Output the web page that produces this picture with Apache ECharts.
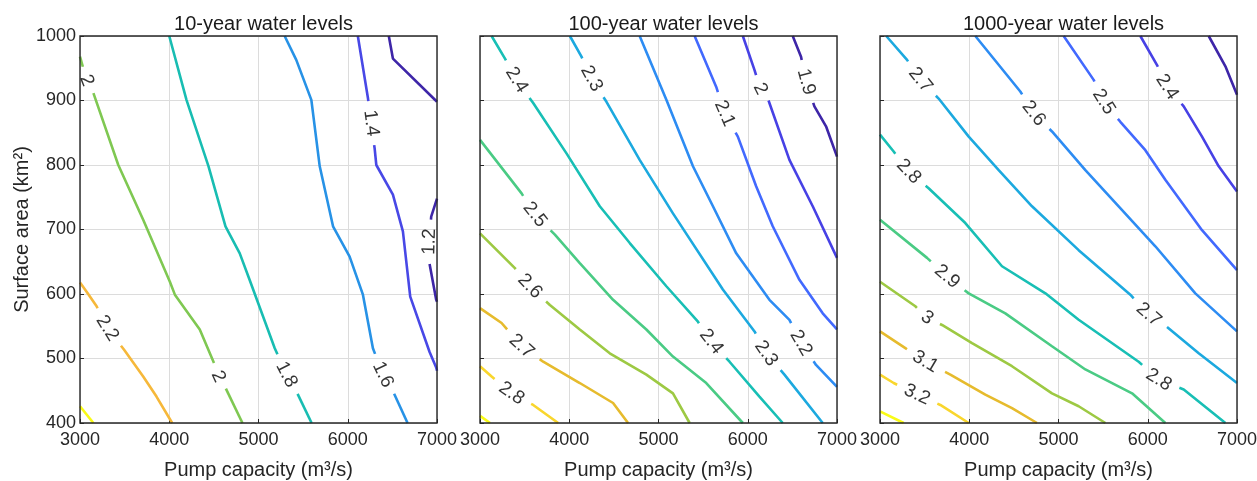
<!DOCTYPE html>
<html><head><meta charset="utf-8">
<script src="https://cdn.jsdelivr.net/npm/echarts@6/dist/echarts.min.js"></script>
<style>html,body{margin:0;padding:0;background:#fff}#c{width:1257px;height:481px}</style>
</head><body><div id="c"></div>
<script>
// ---------------- data ----------------
const titles = ['10-year water levels', '100-year water levels', '1000-year water levels'];
const xTickValues = [3000, 4000, 5000, 6000, 7000];
const yTickValues = [400, 500, 600, 700, 800, 900, 1000];
const xName = 'Pump capacity (m\u00b3/s)';
const yName = 'Surface area (km\u00b2)';

// 10-year panel: contour levels and their polylines [pump, area]
const levels10 = [2.4, 2.2, 2, 1.8, 1.6, 1.4, 1.2, 1.2];
const lines10 = [
  [[3000,426],[3150,400]],
  [[3000,618],[3082,602],[3186,581],[3306,547],[3492,514],[3708,472],[3857,441],[4033,400]],
  [[3000,968],[3075,931],[3149,912],[3429,800],[3708,715],[4007,619],[4063,599],[4342,545],[4511,490],[4548,472],[4641,452],[4820,400]],
  [[4000,1000],[4193,901],[4440,798],[4630,705],[4790,663],[4900,622],[5182,516],[5313,475],[5443,444],[5595,400]],
  [[5293,1000],[5423,963],[5592,901],[5686,798],[5835,705],[6021,658],[6170,599],[6282,516],[6394,475],[6525,444],[6670,400]],
  [[6113,1000],[6227,903],[6262,865],[6301,826],[6320,800],[6506,754],[6618,697],[6700,596],[6917,510],[6991,486],[7000,481]],
  [[6460,1000],[6506,965],[7000,898]],
  [[7000,748],[6935,720],[6914,681],[6917,645],[6991,591],[7000,588]]
];
// label anchors: [line index, pump, area]
const labels10 = [[1,3306,547],[2,3075,931],[2,4548,472],[3,5313,475],[4,6394,475],[5,6262,865],[7,6914,681]];

// 100-year panel
const levels100 = [2.9, 2.8, 2.7, 2.6, 2.5, 2.4, 2.3, 2.2, 2.1, 2, 1.9];
const lines100 = [
  [[3000,411],[3112,400]],
  [[3000,488],[3130,472],[3354,446],[3596,428],[3876,400]],
  [[3000,578],[3242,555],[3466,519],[3708,495],[4118,462],[4491,431],[4659,400]],
  [[3000,694],[3391,640],[3559,612],[3783,583],[4118,545],[4454,508],[4864,475],[5162,446],[5349,400]],
  [[3000,839],[3466,756],[3615,723],[3839,692],[4118,648],[4491,591],[4864,545],[5162,503],[5535,462],[5945,400]],
  [[3130,1000],[3280,965],[3410,932],[3596,896],[3969,818],[4342,736],[4678,679],[5088,612],[5442,557],[5591,526],[5796,495],[6131,441],[6392,400]],
  [[4007,1000],[4137,968],[4249,934],[4417,898],[4789,808],[5162,725],[5721,607],[6076,542],[6206,508],[6411,475],[6840,400]],
  [[4789,1000],[5088,901],[5386,798],[5610,736],[5871,663],[6243,591],[6467,560],[6597,524],[6765,490],[7000,456]],
  [[5405,1000],[5647,921],[5740,880],[5889,844],[6094,767],[6280,705],[6579,622],[6840,570],[7000,545]],
  [[5945,1000],[6076,947],[6140,918],[6243,898],[6467,808],[6728,736],[7000,656]],
  [[6504,1000],[6597,968],[6653,929],[6747,891],[6877,860],[7000,813]]
];
const labels100 = [[1,3354,446],[2,3466,519],[3,3559,612],[4,3615,723],[5,3410,932],[5,5591,526],[6,4249,934],[6,6206,508],[7,6597,524],[8,5740,880],[9,6140,918],[10,6653,929]];

// 1000-year panel
const levels1000 = [3.3, 3.2, 3.1, 3, 2.9, 2.8, 2.7, 2.6, 2.5, 2.4, 2.3];
const lines1000 = [
  [[3000,418],[3265,400]],
  [[3000,475],[3153,462],[3415,444],[3676,428],[3994,400]],
  [[3000,542],[3284,516],[3508,495],[3788,475],[4180,444],[4479,423],[4759,400]],
  [[3000,619],[3396,581],[3527,563],[3695,552],[4031,524],[4479,488],[4927,446],[5226,426],[5525,400]],
  [[3000,715],[3527,656],[3751,627],[3994,601],[4404,570],[4927,519],[5301,483],[5824,446],[6197,400]],
  [[3000,847],[3153,821],[3321,790],[3545,764],[3956,710],[4367,643],[4853,601],[5226,560],[5898,495],[6122,467],[6403,452],[6870,400]],
  [[3070,1000],[3303,963],[3452,932],[3657,903],[3994,844],[4330,792],[4703,736],[5226,668],[5805,599],[6010,568],[6234,547],[6571,508],[7000,462]],
  [[4068,1000],[4572,914],[4722,880],[4927,852],[5301,792],[5674,736],[6085,674],[6533,601],[7000,542]],
  [[5058,1000],[5394,932],[5506,898],[5693,867],[5973,823],[6197,777],[6608,699],[7000,637]],
  [[5917,1000],[6104,955],[6216,921],[6403,891],[6608,844],[6795,798],[7000,759]],
  [[6683,1000],[6870,953],[7000,909]]
];
const labels1000 = [[1,3415,444],[2,3508,495],[3,3527,563],[4,3751,627],[5,3321,790],[5,6122,467],[6,3452,932],[6,6010,568],[7,4722,880],[8,5506,898],[9,6216,921]];

// ---------------- style ----------------
const palette10 = ['#f9fb15','#f6b83a','#7fc852','#18bdb2','#2792e6','#4848e6','#3e26a8','#3e26a8'];
const palette11 = ['#f9fb15','#f9d62d','#e6bb2d','#9dc943','#4acb84','#18bfb5','#1ca9df','#2d8cf3','#4269fe','#4741e5','#3e26a8'];
const FONT = '"Liberation Sans", Arial, Helvetica, sans-serif';
const LABEL_SIZE = 19;
const panels = [
  {levels: levels10, lines: lines10, labels: labels10, colors: palette10},
  {levels: levels100, lines: lines100, labels: labels100, colors: palette11},
  {levels: levels1000, lines: lines1000, labels: labels1000, colors: palette11}
];
const gridLefts = [80, 480, 880];
const GW = 357, GT = 36, GH = 387;

const chart = echarts.init(document.getElementById('c'), null, {renderer: 'canvas'});
const xMin = xTickValues[0], xMax = xTickValues[xTickValues.length-1], xInt = xTickValues[1]-xTickValues[0];
const yMin = yTickValues[0], yMax = yTickValues[yTickValues.length-1], yInt = yTickValues[1]-yTickValues[0];

const base = {
  animation: false,
  backgroundColor: '#fff',
  textStyle: {fontFamily: FONT},
  title: titles.map((t, i) => ({
    text: t, left: gridLefts[i] + GW/2, top: 9, textAlign: 'center',
    textStyle: {fontSize: 20, fontWeight: 'normal', color: '#1a1a1a', fontFamily: FONT}
  })),
  grid: gridLefts.map(l => ({
    left: l, top: GT, width: GW, height: GH, show: true, z: 10,
    borderColor: '#262626', borderWidth: 1.4, backgroundColor: 'transparent',
    containLabel: false, outerBoundsMode: 'none'
  })),
  xAxis: gridLefts.map((l, i) => ({
    type: 'value', gridIndex: i, min: xMin, max: xMax, interval: xInt,
    axisLine: {show: false},
    axisTick: {show: true, inside: true, length: 4, lineStyle: {color: '#262626'}},
    axisLabel: {fontSize: 18, color: '#262626', margin: 8, fontFamily: FONT, formatter: v => String(v)},
    splitLine: {show: true, lineStyle: {color: '#dcdcdc', width: 1}},
    name: xName, nameLocation: 'middle', nameGap: 37,
    nameTextStyle: {fontSize: 20, color: '#262626', fontFamily: FONT}
  })),
  yAxis: gridLefts.map((l, i) => ({
    type: 'value', gridIndex: i, min: yMin, max: yMax, interval: yInt,
    axisLine: {show: false},
    axisTick: {show: true, inside: true, length: 4, lineStyle: {color: '#262626'}},
    axisLabel: {show: i === 0, fontSize: 18, color: '#262626', margin: 4, fontFamily: FONT, formatter: v => String(v)},
    splitLine: {show: true, lineStyle: {color: '#dcdcdc', width: 1}},
    name: i === 0 ? yName : '', nameLocation: 'middle', nameGap: 44,
    nameTextStyle: {fontSize: 20, color: '#262626', fontFamily: FONT}
  })),
  series: []
};
chart.setOption(base);

// measure label text width
const mctx = document.createElement('canvas').getContext('2d');
mctx.font = LABEL_SIZE + 'px ' + FONT;

const series = [];
panels.forEach((p, g) => {
  const toPx = pt => chart.convertToPixel({gridIndex: g}, pt);
  const labelItems = [];
  const gapsPerLine = p.lines.map(() => []);
  const geo = p.lines.map(line => {
    const px = line.map(toPx);
    const S = [0];
    for (let i = 1; i < px.length; i++) {
      S.push(S[i-1] + Math.hypot(px[i][0]-px[i-1][0], px[i][1]-px[i-1][1]));
    }
    return {line, px, S};
  });
  const at = (G, s) => {
    const {line, px, S} = G;
    s = Math.max(0, Math.min(S[S.length-1], s));
    let i = 0;
    while (i < S.length - 2 && S[i+1] < s) i++;
    const len = S[i+1] - S[i] || 1;
    const t = (s - S[i]) / len;
    return {
      d: [line[i][0] + t*(line[i+1][0]-line[i][0]), line[i][1] + t*(line[i+1][1]-line[i][1])],
      p: [px[i][0] + t*(px[i+1][0]-px[i][0]), px[i][1] + t*(px[i+1][1]-px[i][1])]
    };
  };
  p.labels.forEach(([li, x, y]) => {
    const G = geo[li];
    const q = toPx([x, y]);
    let best = 1e9, s0 = 0;
    for (let i = 0; i < G.px.length - 1; i++) {
      const a = G.px[i], b = G.px[i+1];
      const vx = b[0]-a[0], vy = b[1]-a[1];
      const L2 = vx*vx + vy*vy || 1;
      let t = ((q[0]-a[0])*vx + (q[1]-a[1])*vy) / L2;
      t = Math.max(0, Math.min(1, t));
      const cx = a[0] + t*vx, cy = a[1] + t*vy;
      const d = Math.hypot(q[0]-cx, q[1]-cy);
      if (d < best) { best = d; s0 = G.S[i] + t*Math.sqrt(L2); }
    }
    const txt = String(p.levels[li]);
    const half = mctx.measureText(txt).width / 2 + 9;
    gapsPerLine[li].push([s0 - half, s0 + half]);
    const A = at(G, s0 - half).p, B = at(G, s0 + half).p;
    let ang = Math.atan2(-(B[1]-A[1]), B[0]-A[0]) * 180 / Math.PI;
    if (ang > 90) ang -= 180;
    if (ang <= -90) ang += 180;
    labelItems.push({value: at(G, s0).d, name: txt, label: {rotate: ang}});
  });
  geo.forEach((G, li) => {
    const total = G.S[G.S.length-1];
    const gaps = gapsPerLine[li].sort((a, b) => a[0]-b[0]);
    const segs = [];
    let cur = 0;
    const addSeg = (s1, s2) => {
      if (s2 - s1 < 0.5) return;
      const pts = [at(G, s1).d];
      for (let i = 0; i < G.S.length; i++) if (G.S[i] > s1 && G.S[i] < s2) pts.push(G.line[i]);
      pts.push(at(G, s2).d);
      segs.push(pts);
    };
    gaps.forEach(([a, b]) => { if (a > cur) addSeg(cur, a); cur = Math.max(cur, b); });
    if (cur < total) addSeg(cur, total);
    segs.forEach(seg => series.push({
      type: 'line', xAxisIndex: g, yAxisIndex: g, data: seg, symbol: 'none',
      lineStyle: {color: p.colors[li], width: 2.6}, silent: true, z: 2, clip: true
    }));
  });
  series.push({
    type: 'scatter', xAxisIndex: g, yAxisIndex: g, symbolSize: 1, silent: true, z: 3,
    itemStyle: {color: 'rgba(0,0,0,0)'},
    label: {show: true, position: 'inside', formatter: '{b}', fontSize: LABEL_SIZE,
            color: '#000', fontFamily: FONT, align: 'center', verticalAlign: 'middle'},
    data: labelItems
  });
});
chart.setOption({series});
</script>
</body></html>
